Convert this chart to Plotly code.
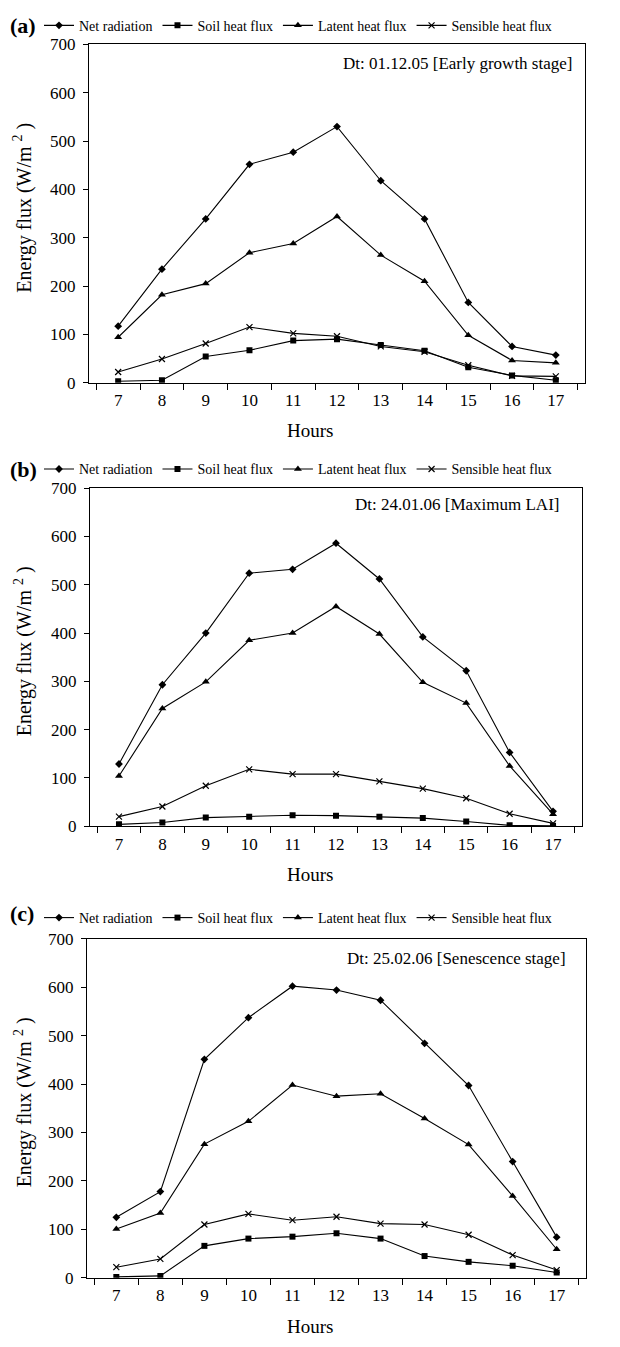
import plotly.graph_objects as go

# ---------------- data ----------------
hours = ["7", "8", "9", "10", "11", "12", "13", "14", "15", "16", "17"]

series_names = ["Net radiation", "Soil heat flux", "Latent heat flux", "Sensible heat flux"]

# (a) 01.12.05 Early growth stage
net_a = [117, 235, 339, 452, 477, 530, 418, 339, 166, 75, 57]
soil_a = [3, 5, 54, 67, 87, 90, 78, 66, 32, 15, 5]
latent_a = [94, 182, 205, 269, 288, 344, 264, 210, 98, 46, 41]
sensible_a = [22, 49, 81, 115, 102, 96, 75, 64, 36, 14, 13]

# (b) 24.01.06 Maximum LAI
net_b = [129, 293, 400, 524, 532, 586, 512, 392, 322, 153, 31]
soil_b = [4, 8, 18, 20, 23, 22, 20, 17, 10, 2, 1]
latent_b = [104, 244, 299, 385, 400, 455, 398, 298, 255, 125, 25]
sensible_b = [20, 41, 84, 118, 108, 108, 93, 78, 58, 26, 6]

# (c) 25.02.06 Senescence stage
net_c = [125, 178, 451, 537, 602, 594, 573, 484, 397, 240, 84]
soil_c = [2, 4, 66, 81, 85, 92, 81, 45, 33, 25, 11]
latent_c = [101, 134, 276, 323, 398, 375, 380, 329, 275, 169, 59]
sensible_c = [22, 39, 110, 132, 119, 126, 112, 110, 89, 47, 16]

panel_labels = ["(a)", "(b)", "(c)"]
panel_notes = ["Dt: 01.12.05 [Early growth stage]",
               "Dt: 24.01.06 [Maximum LAI]",
               "Dt: 25.02.06 [Senescence stage]"]
y_ticks = [0, 100, 200, 300, 400, 500, 600, 700]

data_sets = [
    [net_a, soil_a, latent_a, sensible_a],
    [net_b, soil_b, latent_b, sensible_b],
    [net_c, soil_c, latent_c, sensible_c],
]

# ---------------- layout geometry (pixels) ----------------
W, H = 620, 1347
geo = [
    dict(x0=89, x1=585, y0=36, y1=379, leg_y=17, lab_y=17, note_x=574, note_y=55, hours_y=428),
    dict(x0=90, x1=582, y0=486, y1=829, leg_y=467, lab_y=467, note_x=561, note_y=503, hours_y=878),
    dict(x0=87, x1=586, y0=943, y1=1287, leg_y=922, lab_y=917, note_x=568, note_y=963, hours_y=1336),
]
symbols = ["diamond", "square", "triangle-up", "x-thin"]
sizes = [6, 6, 7, 6]
FONT = "Liberation Serif, Times New Roman, serif"


def px_x(v):
    return v / W


def px_y(v):
    return 1 - v / H


fig = go.Figure()
layout = dict(
    width=W, height=H, margin=dict(l=0, r=0, t=0, b=0),
    paper_bgcolor="white", plot_bgcolor="white",
    font=dict(family=FONT, color="black", size=16),
    showlegend=True,
)
annotations = []

for i, (g, ds) in enumerate(zip(geo, data_sets)):
    sfx = "" if i == 0 else str(i + 1)
    leg = "legend" + sfx
    for k, (name, vals) in enumerate(zip(series_names, ds)):
        fig.add_trace(go.Scatter(
            x=hours, y=vals, name=name, mode="lines+markers",
            xaxis="x" + sfx, yaxis="y" + sfx, legend=leg,
            line=dict(color="black", width=1.1),
            marker=dict(symbol=symbols[k], size=sizes[k], color="black",
                        line=dict(color="black", width=1.2 if k == 3 else 0)),
        ))
    layout["xaxis" + sfx] = dict(
        domain=[px_x(g["x0"]), px_x(g["x1"])], anchor="y" + sfx,
        type="category", tickson="boundaries", ticks="outside", ticklen=6,
        tickcolor="black", tickwidth=1, showline=True, linecolor="black",
        linewidth=1.2, mirror=True, showgrid=False, zeroline=False,
        tickfont=dict(size=17), ticklabelstandoff=2, fixedrange=True,
    )
    layout["yaxis" + sfx] = dict(
        domain=[px_y(g["y1"]), px_y(g["y0"])], anchor="x" + sfx,
        range=[0, 700], tickvals=y_ticks, ticks="outside", ticklen=5,
        tickcolor="black", tickwidth=1, showline=True, linecolor="black",
        linewidth=1.2, mirror=True, showgrid=False, zeroline=False,
        tickfont=dict(size=17), ticklabelstandoff=4, fixedrange=True,
    )
    layout[leg] = dict(
        orientation="h", x=px_x(298), xanchor="center",
        y=px_y(g["leg_y"]), yanchor="middle",
        font=dict(size=14, family=FONT), itemwidth=30,
        bgcolor="rgba(0,0,0,0)", borderwidth=0, tracegroupgap=0,
    )
    annotations += [
        dict(text="<b>" + panel_labels[i] + "</b>", x=px_x(8), y=px_y(g["lab_y"]),
             xref="paper", yref="paper", xanchor="left", yanchor="middle",
             showarrow=False, font=dict(size=22, family=FONT)),
        dict(text=panel_notes[i], x=px_x(g["note_x"]), y=px_y(g["note_y"]),
             xref="paper", yref="paper", xanchor="right", yanchor="middle",
             showarrow=False, font=dict(size=17, family=FONT)),
        dict(text="Hours", x=px_x(310), y=px_y(g["hours_y"]),
             xref="paper", yref="paper", xanchor="center", yanchor="middle",
             showarrow=False, font=dict(size=19, family=FONT)),
        dict(text="Energy flux (W/m <sup>2</sup> )", x=px_x(23),
             y=px_y((g["y0"] + g["y1"]) / 2 - 6),
             xref="paper", yref="paper", xanchor="center", yanchor="middle",
             textangle=-90, showarrow=False, font=dict(size=20, family=FONT)),
    ]

layout["annotations"] = annotations
fig.update_layout(**layout)
fig.write_html("out.html")
